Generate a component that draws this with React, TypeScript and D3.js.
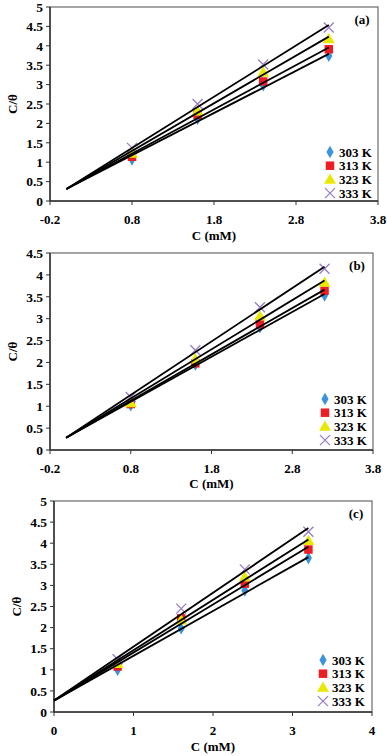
import * as d3 from 'd3'

// concentrations (mM) and series names
const concs = [0.8, 1.6, 2.4, 3.2]
const temps = ['303 K', '313 K', '323 K', '333 K']
const colors = ['#3a93dc', '#ee1c24', '#e8e800', '#9a7cc8']
const shapes = ['diamond', 'square', 'triangle', 'cross']

// C/theta values, one array per temperature
const panelA = [
  [1.07, 2.12, 2.98, 3.74],
  [1.14, 2.22, 3.08, 3.91],
  [1.23, 2.32, 3.32, 4.18],
  [1.37, 2.5, 3.52, 4.47],
]
const panelB = [
  [1.02, 1.95, 2.8, 3.53],
  [1.05, 1.98, 2.87, 3.64],
  [1.08, 2.08, 3.06, 3.83],
  [1.21, 2.28, 3.26, 4.14],
]
const panelC = [
  [1.0, 1.98, 2.88, 3.65],
  [1.08, 2.22, 3.04, 3.85],
  [1.15, 2.18, 3.2, 4.06],
  [1.25, 2.45, 3.38, 4.27],
]
// the fitted lines of each panel share one intercept (read at C = 0)
const intercepts = { a: 0.31, b: 0.28, c: 0.27 }

const xTicksAB = [-0.2, 0.8, 1.8, 2.8, 3.8]
const xTicksC = [0, 1, 2, 3, 4]

const FONT = 'Liberation Serif, Times New Roman, serif'

interface PanelProps {
  tag: 'a' | 'b' | 'c'
  data: number[][]
  left: number
  right: number
  top: number
  bottom: number
  xDomain: [number, number]
  yMax: number
  xTicks: number[]
  legendX: number
  legendY: number
  titleY: number
}

// least squares slope with a fixed intercept
function fit(ys: number[], b: number) {
  const num = d3.sum(concs, (x, i) => x * (ys[i] - b))
  const den = d3.sum(concs, x => x * x)
  return { slope: num / den, intercept: b }
}

function Marker({ shape, color, x, y }: { shape: string, color: string, x: number, y: number }) {
  if (shape === 'cross') {
    return (
      <path d={`M${x - 5},${y - 5}L${x + 5},${y + 5}M${x - 5},${y + 5}L${x + 5},${y - 5}`}
        stroke={color} strokeWidth={1.3} fill="none" />
    )
  }
  const sym = shape === 'diamond' ? d3.symbolDiamond : shape === 'square' ? d3.symbolSquare : d3.symbolTriangle
  const size = shape === 'diamond' ? 44 : shape === 'square' ? 72 : 62
  return <path d={d3.symbol(sym, size)()!} transform={`translate(${x},${y + (shape === 'triangle' ? 1 : 0)})`} fill={color} />
}

function Panel(p: PanelProps) {
  const x = d3.scaleLinear().domain(p.xDomain).range([p.left, p.right])
  const y = d3.scaleLinear().domain([0, p.yMax]).range([p.bottom, p.top])
  const yTicks = d3.range(0, p.yMax + 0.001, 0.5)
  return (
    <g fontFamily={FONT} fontWeight="bold" fill="#000">
      <rect x={p.left} y={p.top} width={p.right - p.left} height={p.bottom - p.top} fill="#fff" stroke="#4d4d4d" strokeWidth={1} />
      {yTicks.map(t => (
        <g key={t}>
          <line x1={p.left - 4} x2={p.left} y1={y(t)} y2={y(t)} stroke="#333" />
          <text x={p.left - 7} y={y(t)} dy="0.35em" textAnchor="end" fontSize={13.5}>{String(t)}</text>
        </g>
      ))}
      {p.xTicks.map(t => (
        <g key={t}>
          <line x1={x(t)} x2={x(t)} y1={p.bottom} y2={p.bottom + 4} stroke="#333" />
          <text x={x(t)} y={p.bottom + 18} dy="0.35em" textAnchor="middle" fontSize={13}>{String(t)}</text>
        </g>
      ))}
      <line x1={p.left} x2={p.right} y1={p.bottom} y2={p.bottom} stroke="#333" strokeWidth={1.5} />
      <line x1={p.left} x2={p.left} y1={p.top} y2={p.bottom} stroke="#333" strokeWidth={1.5} />
      <text x={(p.left + p.right) / 2} y={p.titleY} dy="0.35em" textAnchor="middle" fontSize={13}>C (mM)</text>
      <text transform={`translate(${p.left - 38},${(p.top + p.bottom) / 2}) rotate(-90)`} dy="0.35em" textAnchor="middle" fontSize={13}>C/θ</text>
      <text x={p.right - 16} y={p.top + 12} dy="0.35em" textAnchor="middle" fontSize={13}>({p.tag})</text>
      {p.data.map((ys, si) => (
        <g key={si}>
          {ys.map((v, i) => <Marker key={i} shape={shapes[si]} color={colors[si]} x={x(concs[i])} y={y(v)} />)}
        </g>
      ))}
      {p.data.map((ys, si) => {
        const f = fit(ys, intercepts[p.tag])
        const xs = [0, concs[concs.length - 1]]
        const d = d3.line<number>().x(v => x(v)).y(v => y(f.intercept + f.slope * v))(xs)!
        return <path key={si} d={d} stroke="#000" strokeWidth={1.8} fill="none" />
      })}
      {temps.map((t, i) => (
        <g key={t}>
          <Marker shape={shapes[i]} color={colors[i]} x={p.legendX} y={p.legendY + i * 13.7} />
          <text x={p.legendX + 9} y={p.legendY + i * 13.7} dy="0.35em" fontSize={13}>{t}</text>
        </g>
      ))}
    </g>
  )
}

export default function App() {
  return (
    <svg width={387} height={756} style={{ position: 'absolute', left: 0, top: 0, background: '#fff' }}>
      <Panel tag="a" data={panelA} left={50} right={378} top={7} bottom={201} xDomain={[-0.2, 3.8]} yMax={5}
        xTicks={xTicksAB} legendX={330} legendY={152} titleY={235} />
      <Panel tag="b" data={panelB} left={50} right={373} top={253} bottom={450} xDomain={[-0.2, 3.8]} yMax={4.5}
        xTicks={xTicksAB} legendX={325} legendY={399} titleY={483} />
      <Panel tag="c" data={panelC} left={54} right={372} top={501} bottom={712} xDomain={[0, 4]} yMax={5}
        xTicks={xTicksC} legendX={323} legendY={660} titleY={746} />
    </svg>
  )
}
